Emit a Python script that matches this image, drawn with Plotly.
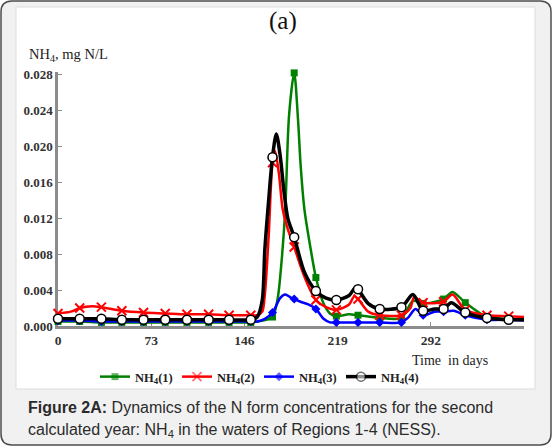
import plotly.graph_objects as go

# Days at which the symbols are drawn (same for all four regions)
MARKER_DAYS = [0, 17, 34, 50, 67, 84, 101, 118, 134, 151, 168, 185, 202, 218, 235, 252, 269, 286, 302, 319, 336, 353]

# NH4(1) - region 1
days_1 = [0, 17, 34, 50, 67, 84, 101, 118, 134, 151, 160, 168, 172, 175, 178, 181, 185, 188, 190, 193, 198, 202,
          208, 213, 218, 228, 235, 252, 269, 278, 286, 302, 309, 319, 336, 353, 365]
nh4_1 = [0.0005, 0.0005, 0.0004, 0.0004, 0.0004, 0.0004, 0.0004, 0.0004, 0.0004, 0.0004, 0.0006, 0.0010, 0.0030,
         0.0070, 0.0130, 0.0235, 0.0282, 0.0230, 0.0180, 0.0130, 0.0085, 0.0054, 0.0025, 0.0014, 0.0011, 0.0013,
         0.0012, 0.0009, 0.0009, 0.0028, 0.0025, 0.0030, 0.0038, 0.0026, 0.0010, 0.0008, 0.0007]

# NH4(2) - region 2
days_2 = [0, 10, 17, 27, 34, 50, 67, 84, 101, 118, 134, 151, 156, 160, 162, 165, 168, 170, 173, 176, 180, 185,
          193, 202, 210, 218, 228, 232, 235, 243, 252, 269, 276, 279, 286, 302, 309, 319, 336, 353, 365]
nh4_2 = [0.0014, 0.0016, 0.0020, 0.0022, 0.0021, 0.0017, 0.0015, 0.0014, 0.0013, 0.0013, 0.0012, 0.0012, 0.0012,
         0.0016, 0.0035, 0.0100, 0.0182, 0.0195, 0.0170, 0.0130, 0.0108, 0.0088, 0.0055, 0.0029, 0.0021, 0.0018,
         0.0024, 0.0033, 0.0030, 0.0016, 0.0012, 0.0012, 0.0020, 0.0032, 0.0026, 0.0027, 0.0035, 0.0018, 0.0012,
         0.0011, 0.0010]

# NH4(3) - region 3
days_3 = [0, 17, 34, 50, 67, 84, 101, 118, 134, 151, 156, 162, 168, 174, 178, 182, 185, 190, 196, 202, 208, 213,
          218, 235, 252, 269, 274, 280, 286, 295, 302, 310, 319, 336, 353, 365]
nh4_3 = [0.0006, 0.0006, 0.0005, 0.0005, 0.0005, 0.0005, 0.0005, 0.0005, 0.0005, 0.0005, 0.0005, 0.0008, 0.0015,
         0.0031, 0.0035, 0.0032, 0.0030, 0.0027, 0.0024, 0.0019, 0.0008, 0.0004, 0.0004, 0.0004, 0.0004, 0.0004,
         0.0009, 0.0019, 0.0012, 0.0016, 0.0016, 0.0017, 0.0012, 0.0007, 0.0007, 0.0006]

# NH4(4) - region 4
days_4 = [0, 17, 34, 50, 67, 84, 101, 118, 134, 151, 156, 160, 162, 165, 168, 171, 174, 177, 180, 185, 193, 202,
          210, 218, 228, 233, 235, 243, 252, 269, 278, 286, 295, 302, 308, 319, 336, 353, 365]
nh4_4 = [0.0008, 0.0008, 0.0008, 0.0007, 0.0007, 0.0007, 0.0007, 0.0007, 0.0007, 0.0007, 0.0010, 0.0029, 0.0085,
         0.0140, 0.0188, 0.0214, 0.0190, 0.0150, 0.0120, 0.0099, 0.0060, 0.0039, 0.0031, 0.0029, 0.0034, 0.0043,
         0.0041, 0.0025, 0.0019, 0.0021, 0.0035, 0.0017, 0.0019, 0.0019, 0.0026, 0.0015, 0.0009, 0.0007, 0.0007]

y_ticks = [0.000, 0.004, 0.008, 0.012, 0.016, 0.020, 0.024, 0.028]
x_ticks = [0, 73, 146, 219, 292]

# plot area in pixels (552x446 page)
L, R, T, B = 58, 524, 72, 326
W, H = R - L, B - T


def px_x(px):
    return (px - L) / W


def px_y(py):
    return (B - py) / H


def rounded_rect(x0, y0, x1, y1, r):
    # path in paper coordinates, built from pixel corners
    pts = [
        f"M{px_x(x0 + r)},{px_y(y0)}",
        f"L{px_x(x1 - r)},{px_y(y0)}",
        f"Q{px_x(x1)},{px_y(y0)} {px_x(x1)},{px_y(y0 + r)}",
        f"L{px_x(x1)},{px_y(y1 - r)}",
        f"Q{px_x(x1)},{px_y(y1)} {px_x(x1 - r)},{px_y(y1)}",
        f"L{px_x(x0 + r)},{px_y(y1)}",
        f"Q{px_x(x0)},{px_y(y1)} {px_x(x0)},{px_y(y1 - r)}",
        f"L{px_x(x0)},{px_y(y0 + r)}",
        f"Q{px_x(x0)},{px_y(y0)} {px_x(x0 + r)},{px_y(y0)}",
        "Z",
    ]
    return " ".join(pts)


series = [
    ("NH<sub>4</sub>(1)", days_1, nh4_1, "#008000", dict(symbol="square", size=7, color="#008000")),
    ("NH<sub>4</sub>(2)", days_2, nh4_2, "#ff0000", dict(symbol="x-thin", size=9, color="#ff0000",
                                                          line=dict(color="#ff0000", width=2))),
    ("NH<sub>4</sub>(3)", days_3, nh4_3, "#0000ff", dict(symbol="diamond", size=7, color="#0000ff")),
    ("NH<sub>4</sub>(4)", days_4, nh4_4, "#000000", dict(symbol="circle", size=9, color="white",
                                                          line=dict(color="black", width=1.5))),
]

fig = go.Figure()
for name, d, v, col, mk in series:
    mk = dict(mk)
    mk["opacity"] = [1 if x in MARKER_DAYS else 0 for x in d]
    fig.add_trace(
        go.Scatter(
            x=d,
            y=v,
            name=name,
            mode="lines+markers",
            line=dict(color=col, width=3.5 if col == "#000000" else 2.5, shape="spline", smoothing=0.8),
            marker=mk,
            cliponaxis=False,
        )
    )

serif = "Liberation Serif, Times New Roman, serif"
sans = "Liberation Sans, Arial, sans-serif"

fig.update_layout(
    width=552,
    height=446,
    margin=dict(l=L, r=552 - R, t=T, b=446 - B),
    paper_bgcolor="white",
    plot_bgcolor="rgba(0,0,0,0)",
    showlegend=True,
    legend=dict(
        orientation="h",
        x=px_x(95),
        y=px_y(377),
        xanchor="left",
        yanchor="middle",
        entrywidth=37,
        entrywidthmode="pixels",
        font=dict(family=serif, size=12.5, color="#222", weight="bold"),
        bgcolor="rgba(0,0,0,0)",
        tracegroupgap=0,
    ),
    xaxis=dict(
        range=[0, 365],
        tickvals=x_ticks,
        showgrid=False,
        zeroline=False,
        showline=True,
        linecolor="#8c8c8c",
        linewidth=3,
        ticks="inside",
        ticklen=4,
        tickcolor="#8c8c8c",
        tickfont=dict(family=serif, size=13.5, color="#333", weight="bold"),
        layer="below traces",
    ),
    yaxis=dict(
        range=[0, 0.0283],
        tickvals=y_ticks,
        tickformat=".3f",
        showgrid=False,
        zeroline=False,
        showline=True,
        linecolor="#8c8c8c",
        linewidth=2.5,
        ticks="inside",
        ticklen=4,
        tickcolor="#8c8c8c",
        tickfont=dict(family=serif, size=13, color="#333", weight="bold"),
        layer="below traces",
    ),
    shapes=[
        dict(type="path", xref="paper", yref="paper", layer="below",
             path=rounded_rect(1, 1, 551, 445, 11), fillcolor="#f1f1f1",
             line=dict(color="#4d4d4d", width=1.5)),
        dict(type="rect", xref="paper", yref="paper", layer="below",
             x0=px_x(16), x1=px_x(535), y0=px_y(389), y1=px_y(7),
             fillcolor="white", line=dict(color="#dddddd", width=1)),
    ],
    annotations=[
        dict(text="(a)", xref="paper", yref="paper", x=px_x(283), y=px_y(21),
             xanchor="center", yanchor="middle",
             showarrow=False, font=dict(family=serif, size=25, color="#111")),
        dict(text="NH<sub>4</sub>, mg N/L", xref="paper", yref="paper", x=px_x(27), y=px_y(55),
             xanchor="left", yanchor="middle", showarrow=False,
             font=dict(family=serif, size=14.5, color="#222")),
        dict(text="Time  in days", xref="paper", yref="paper", x=px_x(490), y=px_y(360),
             xanchor="right", yanchor="middle", showarrow=False,
             font=dict(family=serif, size=14, color="#222")),
        dict(text="<b>Figure 2A:</b> Dynamics of the N form concentrations for the second",
             xref="paper", yref="paper", x=px_x(26), y=px_y(408), xanchor="left", yanchor="middle",
             showarrow=False, font=dict(family=sans, size=16, color="#2b2b2b")),
        dict(text="calculated year: NH<sub>4</sub> in the waters of Regions 1-4 (NESS).",
             xref="paper", yref="paper", x=px_x(26), y=px_y(430), xanchor="left", yanchor="middle",
             showarrow=False, font=dict(family=sans, size=16, color="#2b2b2b")),
    ],
)

fig.write_html("out.html", config={"displayModeBar": False},
               post_script="document.body.style.margin='0px';")
